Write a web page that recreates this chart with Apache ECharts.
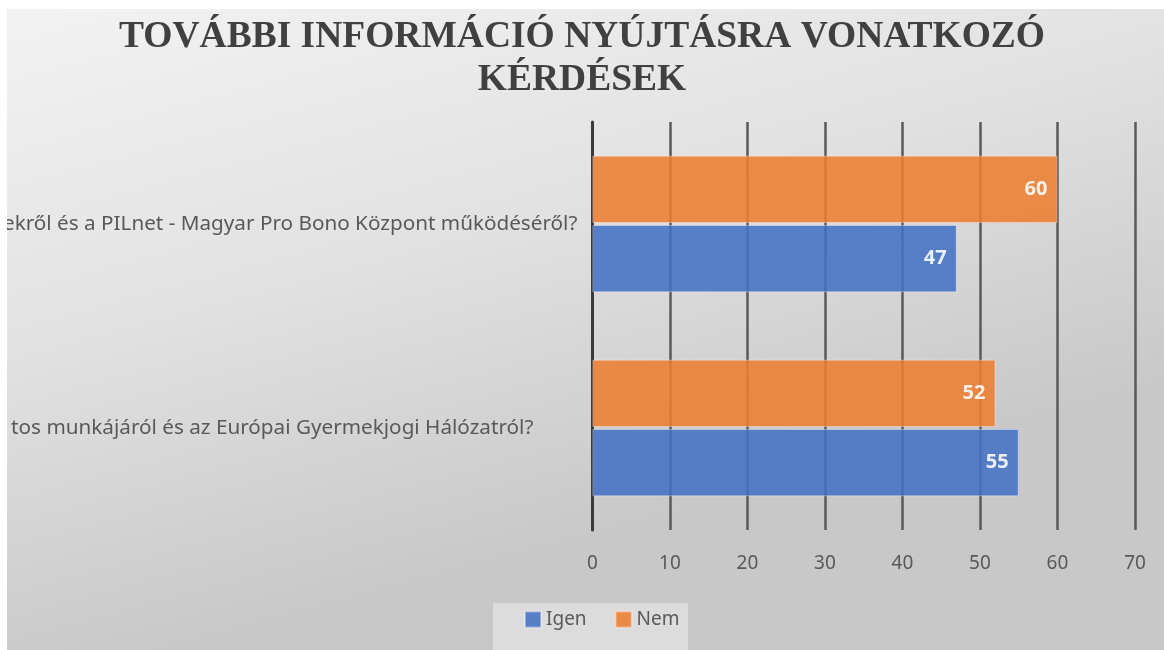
<!DOCTYPE html>
<html>
    <head>
        <meta charset="UTF-8" />
        <title>További információ</title>
        <style>
            html,
            body {
                margin: 0;
                padding: 0;
                background: #fff;
            }
            #chart {
                width: 1164px;
                height: 650px;
            }
        </style>
    </head>
    <body>
        <div id="chart"></div>
        <script src="https://cdn.jsdelivr.net/npm/echarts@6/dist/echarts.min.js"></script>
        <script>
            // bottom category first (ECharts draws y categories from the bottom up)
            const categories = [
                "tos munkájáról és az Európai Gyermekjogi Hálózatról?",
                "ekről és a PILnet - Magyar Pro Bono Központ működéséről?",
            ];
            const igen = [55, 47];
            const nem = [52, 60];
            const xTicks = [0, 70, 10]; // min, max, interval

            // the wrapped labels end at different x in the reference
            const labelPad = [44, 0];

            const chart = echarts.init(document.getElementById("chart"));

            const barLabel = {
                show: true,
                position: "insideRight",
                distance: 10,
                color: "#fff",
                fontWeight: "bold",
                fontSize: 20,
                fontFamily: "Noto Sans",
            };

            const option = {
                backgroundColor: {
                    type: "linear",
                    x: 0,
                    y: 0,
                    x2: 0.15,
                    y2: 1,
                    colorStops: [
                        { offset: 0, color: "#f3f3f3" },
                        { offset: 0.5, color: "#e2e2e2" },
                        { offset: 1, color: "#c8c8c8" },
                    ],
                },
                title: {
                    text: "TOVÁBBI INFORMÁCIÓ NYÚJTÁSRA VONATKOZÓ\nKÉRDÉSEK",
                    left: "center",
                    top: 11,
                    textStyle: {
                        fontFamily: "Liberation Serif",
                        fontWeight: "bold",
                        fontSize: 37.5,
                        lineHeight: 43,
                        color: "#404040",
                    },
                },
                legend: {
                    data: ["Igen", "Nem"],
                    left: 519,
                    top: 605,
                    icon: "rect",
                    itemWidth: 16,
                    itemHeight: 16,
                    itemGap: 28,
                    textStyle: { color: "#595959", fontSize: 19, fontFamily: "Noto Sans" },
                },
                grid: {
                    left: 591,
                    right: 29,
                    top: 122,
                    bottom: 120,
                },
                xAxis: {
                    type: "value",
                    min: xTicks[0],
                    max: xTicks[1],
                    interval: xTicks[2],
                    axisLine: { show: false },
                    axisTick: { show: false },
                    axisLabel: { color: "#595959", fontSize: 19, fontFamily: "Noto Sans", margin: 24 },
                    splitLine: { lineStyle: { color: "#5a5a5a", width: 2.5 } },
                },
                yAxis: {
                    type: "category",
                    data: categories.map((c, i) => ({ value: c, textStyle: { padding: [10, labelPad[i], 0, 0] } })),
                    axisLine: { lineStyle: { color: "#3a3a3a", width: 3 } },
                    axisTick: { show: false },
                    axisLabel: { color: "#595959", fontSize: 20.7, fontFamily: "Noto Sans", margin: 15 },
                },
                // Nem first so it sits above Igen inside each category
                series: [
                    {
                        name: "Nem",
                        type: "bar",
                        data: nem,
                        barWidth: "33%",
                        barGap: "3%",
                        itemStyle: { color: "#ed7d31", opacity: 0.88, borderColor: "rgba(255,255,255,0.4)", borderWidth: 1 },
                        label: barLabel,
                    },
                    {
                        name: "Igen",
                        type: "bar",
                        data: igen,
                        barWidth: "33%",
                        barGap: "3%",
                        itemStyle: { color: "#4472c4", opacity: 0.88, borderColor: "rgba(255,255,255,0.4)", borderWidth: 1 },
                        label: barLabel,
                    },
                ],
                graphic: [
                    { type: "rect", z: -1, shape: { x: 493, y: 603, width: 195, height: 47 }, style: { fill: "#dcdcdc" } },
                    { type: "rect", z: 100, shape: { x: 0, y: 0, width: 1164, height: 9 }, style: { fill: "#ffffff" } },
                    { type: "rect", z: 100, shape: { x: 0, y: 0, width: 7, height: 650 }, style: { fill: "#ffffff" } },
                ],
            };

            chart.setOption(option);
        </script>
    </body>
</html>
